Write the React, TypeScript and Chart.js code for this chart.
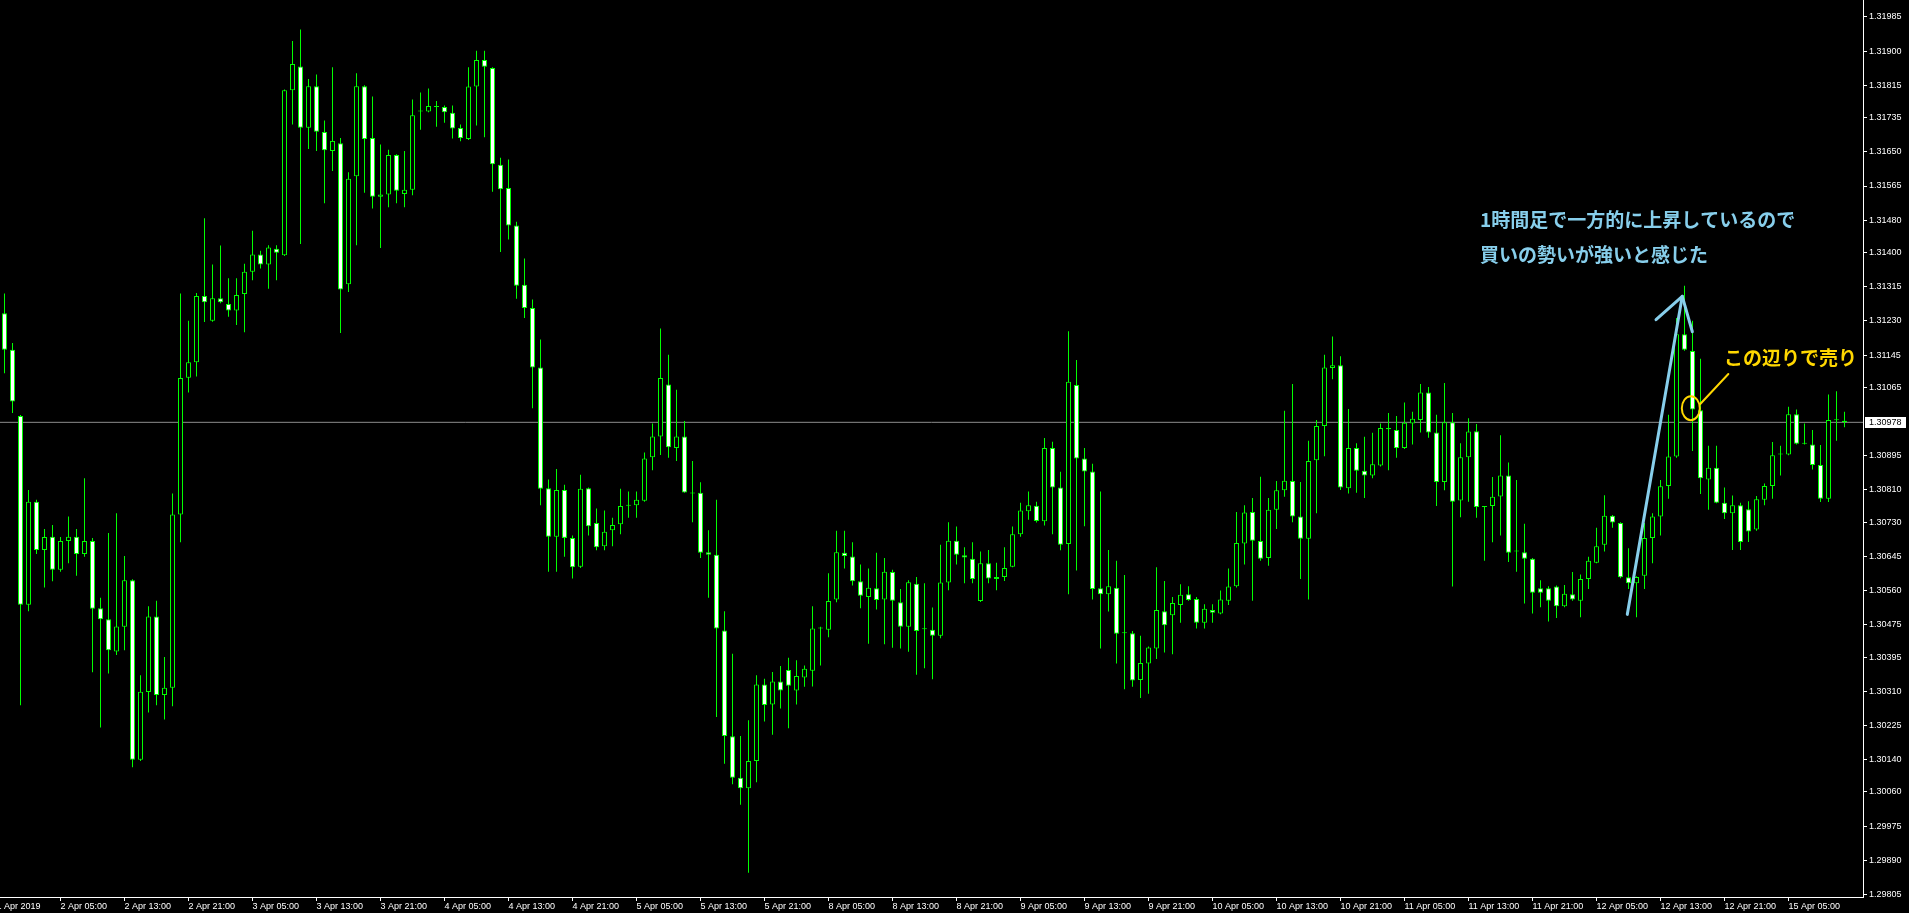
import React, { useEffect, useRef } from 'react';
import { Chart, registerables } from 'chart.js';

Chart.register(...registerables);

// H1 candles, 1 Apr 22:00 .. 15 Apr 07:00 (231 bars)
const opens = [
  1.31249, 1.31158, 1.30994, 1.30525, 1.30781, 1.30661, 1.30694, 1.30612, 1.30683, 1.30694,
  1.30651, 1.30683, 1.30516, 1.30489, 1.30409, 1.30470, 1.30586, 1.30140, 1.30308, 1.30496,
  1.30301, 1.30319, 1.30749, 1.31089, 1.31127, 1.31292, 1.31230, 1.31286, 1.31272, 1.31256,
  1.31297, 1.31352, 1.31395, 1.31370, 1.31409, 1.31393, 1.31803, 1.31862, 1.31710, 1.31813,
  1.31699, 1.31652, 1.31671, 1.31321, 1.31589, 1.31813, 1.31684, 1.31538, 1.31544, 1.31642,
  1.31545, 1.31556, 1.31750, 1.31750, 1.31764, 1.31761, 1.31747, 1.31709, 1.31682, 1.31812,
  1.31878, 1.31858, 1.31618, 1.31560, 1.31467, 1.31320, 1.31262, 1.31114, 1.30814, 1.30694,
  1.30810, 1.30691, 1.30619, 1.30814, 1.30728, 1.30670, 1.30710, 1.30725, 1.30771, 1.30772,
  1.30783, 1.30891, 1.30943, 1.31072, 1.30914, 1.30943, 1.30803, 1.30803, 1.30655, 1.30649,
  1.30461, 1.30198, 1.30095, 1.30069, 1.30137, 1.30327, 1.30277, 1.30334, 1.30363, 1.30312,
  1.30344, 1.30361, 1.30466, 1.30463, 1.30538, 1.30654, 1.30645, 1.30583, 1.30544, 1.30566,
  1.30538, 1.30606, 1.30531, 1.30470, 1.30577, 1.30466, 1.30463, 1.30448, 1.30580, 1.30684,
  1.30648, 1.30639, 1.30534, 1.30628, 1.30589, 1.30594, 1.30619, 1.30700, 1.30757, 1.30771,
  1.30732, 1.30914, 1.30816, 1.30676, 1.31071, 1.30888, 1.30856, 1.30566, 1.30551, 1.30567,
  1.30454, 1.30454, 1.30338, 1.30379, 1.30416, 1.30509, 1.30499, 1.30524, 1.30551, 1.30539,
  1.30480, 1.30512, 1.30503, 1.30535, 1.30571, 1.30677, 1.30755, 1.30683, 1.30641, 1.30761,
  1.30809, 1.30832, 1.30744, 1.30689, 1.30884, 1.30969, 1.31113, 1.31120, 1.30814, 1.30914,
  1.30858, 1.30846, 1.30871, 1.30964, 1.30959, 1.30914, 1.30975, 1.30984, 1.31052, 1.30953,
  1.30830, 1.30978, 1.30784, 1.30891, 1.30956, 1.30768, 1.30770, 1.30794, 1.30846, 1.30658,
  1.30655, 1.30639, 1.30566, 1.30566, 1.30570, 1.30521, 1.30551, 1.30535, 1.30589, 1.30629,
  1.30674, 1.30746, 1.30728, 1.30593, 1.30578, 1.30597, 1.30691, 1.30744, 1.30820, 1.30893,
  1.31197, 1.31155, 1.31008, 1.30836, 1.30865, 1.30778, 1.30752, 1.30772, 1.30762, 1.30712,
  1.30786, 1.30820, 1.30898, 1.30898, 1.30998, 1.30926, 1.30923, 1.30872, 1.30788, 1.30984,
  1.30982,
];

const highs = [
  1.31298, 1.31175, 1.30996, 1.30810, 1.30786, 1.30713, 1.30723, 1.30693, 1.30744, 1.30713,
  1.30839, 1.30691, 1.30542, 1.30703, 1.30752, 1.30646, 1.30588, 1.30350, 1.30521, 1.30535,
  1.30395, 1.30801, 1.31298, 1.31230, 1.31299, 1.31485, 1.31370, 1.31417, 1.31336, 1.31336,
  1.31372, 1.31454, 1.31404, 1.31418, 1.31418, 1.31805, 1.31925, 1.31954, 1.31831, 1.31842,
  1.31728, 1.31860, 1.31684, 1.31599, 1.31845, 1.31815, 1.31787, 1.31668, 1.31655, 1.31644,
  1.31652, 1.31780, 1.31797, 1.31807, 1.31776, 1.31765, 1.31765, 1.31718, 1.31860, 1.31901,
  1.31901, 1.31860, 1.31635, 1.31631, 1.31476, 1.31385, 1.31283, 1.31184, 1.30836, 1.30862,
  1.30823, 1.30697, 1.30848, 1.30816, 1.30764, 1.30759, 1.30741, 1.30813, 1.30806, 1.30806,
  1.30903, 1.30975, 1.31211, 1.31146, 1.31059, 1.30981, 1.30882, 1.30829, 1.30710, 1.30786,
  1.30509, 1.30403, 1.30199, 1.30238, 1.30350, 1.30341, 1.30358, 1.30373, 1.30393, 1.30387,
  1.30374, 1.30521, 1.30470, 1.30603, 1.30709, 1.30709, 1.30680, 1.30625, 1.30615, 1.30654,
  1.30641, 1.30612, 1.30564, 1.30586, 1.30594, 1.30578, 1.30518, 1.30674, 1.30730, 1.30719,
  1.30668, 1.30680, 1.30657, 1.30661, 1.30629, 1.30668, 1.30719, 1.30778, 1.30806, 1.30781,
  1.30939, 1.30930, 1.30855, 1.31204, 1.31133, 1.30914, 1.30875, 1.30806, 1.30661, 1.30634,
  1.30599, 1.30460, 1.30448, 1.30421, 1.30618, 1.30584, 1.30544, 1.30576, 1.30571, 1.30544,
  1.30526, 1.30526, 1.30560, 1.30615, 1.30755, 1.30772, 1.30790, 1.30843, 1.30790, 1.30832,
  1.31007, 1.31073, 1.30830, 1.30932, 1.30984, 1.31146, 1.31191, 1.31142, 1.31011, 1.30926,
  1.30942, 1.30952, 1.30975, 1.31001, 1.30994, 1.31027, 1.31004, 1.31073, 1.31066, 1.30997,
  1.31076, 1.31001, 1.30926, 1.30988, 1.30974, 1.30770, 1.30842, 1.30946, 1.30878, 1.30835,
  1.30726, 1.30641, 1.30586, 1.30571, 1.30573, 1.30574, 1.30606, 1.30600, 1.30644, 1.30716,
  1.30797, 1.30748, 1.30730, 1.30665, 1.30596, 1.30728, 1.30752, 1.30835, 1.30997, 1.31237,
  1.31317, 1.31230, 1.31136, 1.30920, 1.30920, 1.30816, 1.30796, 1.30778, 1.30782, 1.30795,
  1.30826, 1.30929, 1.30920, 1.31017, 1.31010, 1.30975, 1.30959, 1.30922, 1.31047, 1.31055,
  1.31004,
];

const lows = [
  1.31100, 1.31001, 1.30275, 1.30509, 1.30651, 1.30568, 1.30583, 1.30607, 1.30628, 1.30597,
  1.30644, 1.30357, 1.30220, 1.30354, 1.30400, 1.30412, 1.30121, 1.30137, 1.30257, 1.30275,
  1.30240, 1.30273, 1.30680, 1.31052, 1.31092, 1.31227, 1.31228, 1.31274, 1.31240, 1.31220,
  1.31202, 1.31331, 1.31360, 1.31310, 1.31331, 1.31391, 1.31718, 1.31421, 1.31657, 1.31652,
  1.31522, 1.31602, 1.31200, 1.31302, 1.31418, 1.31548, 1.31509, 1.31411, 1.31512, 1.31522,
  1.31512, 1.31542, 1.31705, 1.31748, 1.31712, 1.31722, 1.31683, 1.31676, 1.31679, 1.31715,
  1.31686, 1.31551, 1.31401, 1.31432, 1.31285, 1.31237, 1.31013, 1.30772, 1.30607, 1.30607,
  1.30644, 1.30590, 1.30616, 1.30697, 1.30660, 1.30660, 1.30670, 1.30700, 1.30741, 1.30741,
  1.30781, 1.30859, 1.30897, 1.30890, 1.30882, 1.30803, 1.30730, 1.30641, 1.30542, 1.30246,
  1.30130, 1.30079, 1.30028, 1.29859, 1.30084, 1.30235, 1.30202, 1.30267, 1.30218, 1.30277,
  1.30321, 1.30322, 1.30374, 1.30444, 1.30531, 1.30615, 1.30573, 1.30516, 1.30428, 1.30513,
  1.30427, 1.30418, 1.30416, 1.30408, 1.30351, 1.30367, 1.30340, 1.30442, 1.30561, 1.30625,
  1.30578, 1.30578, 1.30532, 1.30578, 1.30561, 1.30584, 1.30618, 1.30694, 1.30736, 1.30729,
  1.30722, 1.30700, 1.30660, 1.30551, 1.30610, 1.30720, 1.30538, 1.30416, 1.30508, 1.30379,
  1.30315, 1.30321, 1.30293, 1.30304, 1.30390, 1.30406, 1.30402, 1.30480, 1.30535, 1.30466,
  1.30466, 1.30480, 1.30501, 1.30524, 1.30568, 1.30625, 1.30535, 1.30634, 1.30622, 1.30713,
  1.30793, 1.30730, 1.30589, 1.30538, 1.30752, 1.30894, 1.31085, 1.30810, 1.30801, 1.30803,
  1.30790, 1.30839, 1.30868, 1.30859, 1.30890, 1.30912, 1.30923, 1.30953, 1.30940, 1.30770,
  1.30809, 1.30570, 1.30742, 1.30781, 1.30741, 1.30634, 1.30680, 1.30697, 1.30631, 1.30607,
  1.30528, 1.30503, 1.30519, 1.30483, 1.30492, 1.30519, 1.30535, 1.30494, 1.30564, 1.30628,
  1.30657, 1.30716, 1.30591, 1.30564, 1.30494, 1.30564, 1.30628, 1.30697, 1.30788, 1.30890,
  1.31156, 1.30907, 1.30800, 1.30761, 1.30777, 1.30738, 1.30661, 1.30661, 1.30681, 1.30709,
  1.30772, 1.30788, 1.30846, 1.30896, 1.30923, 1.30923, 1.30861, 1.30780, 1.30780, 1.30932,
  1.30966,
];

const closes = [
  1.31158, 1.31030, 1.30525, 1.30781, 1.30661, 1.30693, 1.30612, 1.30683, 1.30694, 1.30651,
  1.30683, 1.30515, 1.30489, 1.30412, 1.30471, 1.30586, 1.30140, 1.30309, 1.30496, 1.30301,
  1.30319, 1.30749, 1.31088, 1.31127, 1.31292, 1.31276, 1.31286, 1.31276, 1.31256, 1.31294,
  1.31352, 1.31395, 1.31370, 1.31412, 1.31399, 1.31803, 1.31868, 1.31710, 1.31813, 1.31700,
  1.31654, 1.31677, 1.31308, 1.31583, 1.31813, 1.31682, 1.31538, 1.31544, 1.31642, 1.31553,
  1.31556, 1.31741, 1.31751, 1.31764, 1.31761, 1.31748, 1.31708, 1.31684, 1.31812, 1.31878,
  1.31861, 1.31619, 1.31557, 1.31467, 1.31317, 1.31262, 1.31114, 1.30813, 1.30694, 1.30810,
  1.30691, 1.30618, 1.30813, 1.30720, 1.30668, 1.30706, 1.30723, 1.30770, 1.30772, 1.30786,
  1.30888, 1.30943, 1.31088, 1.30916, 1.30943, 1.30804, 1.30801, 1.30654, 1.30649, 1.30466,
  1.30199, 1.30095, 1.30069, 1.30137, 1.30327, 1.30276, 1.30334, 1.30312, 1.30324, 1.30348,
  1.30366, 1.30466, 1.30467, 1.30534, 1.30655, 1.30646, 1.30583, 1.30547, 1.30567, 1.30537,
  1.30607, 1.30535, 1.30470, 1.30581, 1.30460, 1.30464, 1.30448, 1.30580, 1.30684, 1.30649,
  1.30642, 1.30589, 1.30628, 1.30590, 1.30594, 1.30616, 1.30700, 1.30759, 1.30772, 1.30733,
  1.30914, 1.30816, 1.30674, 1.31079, 1.30888, 1.30856, 1.30564, 1.30551, 1.30571, 1.30453,
  1.30455, 1.30337, 1.30380, 1.30419, 1.30512, 1.30474, 1.30529, 1.30550, 1.30537, 1.30480,
  1.30515, 1.30505, 1.30538, 1.30570, 1.30678, 1.30754, 1.30684, 1.30639, 1.30761, 1.30809,
  1.30833, 1.30744, 1.30689, 1.30882, 1.30969, 1.31114, 1.31120, 1.30816, 1.30914, 1.30858,
  1.30846, 1.30874, 1.30964, 1.30961, 1.30914, 1.30977, 1.30987, 1.31052, 1.30953, 1.30830,
  1.30978, 1.30781, 1.30891, 1.30955, 1.30768, 1.30769, 1.30793, 1.30846, 1.30654, 1.30657,
  1.30639, 1.30555, 1.30555, 1.30535, 1.30521, 1.30552, 1.30538, 1.30589, 1.30634, 1.30670,
  1.30746, 1.30729, 1.30593, 1.30578, 1.30594, 1.30691, 1.30744, 1.30819, 1.30893, 1.31197,
  1.31158, 1.31010, 1.30839, 1.30865, 1.30778, 1.30752, 1.30772, 1.30681, 1.30707, 1.30787,
  1.30820, 1.30896, 1.30900, 1.30998, 1.30925, 1.30925, 1.30872, 1.30788, 1.30984, 1.30983,
  1.30978,
];

const currentPrice = 1.30978;

const priceTicks = [
  1.31985, 1.319, 1.31815, 1.31735, 1.3165, 1.31565, 1.3148, 1.314, 1.31315, 1.3123,
  1.31145, 1.31065, 1.30895, 1.3081, 1.3073, 1.30645, 1.3056, 1.30475, 1.30395, 1.3031,
  1.30225, 1.3014, 1.3006, 1.29975, 1.2989, 1.29805,
];

const timeTickIndex = [
  -1, 7, 15, 23, 31, 39, 47, 55, 63, 71, 79, 87, 95, 103, 111, 119, 127, 135, 143, 151,
  159, 167, 175, 183, 191, 199, 207, 215, 223,
];

const timeTickLabels = [
  '1 Apr 2019', '2 Apr 05:00', '2 Apr 13:00', '2 Apr 21:00', '3 Apr 05:00', '3 Apr 13:00',
  '3 Apr 21:00', '4 Apr 05:00', '4 Apr 13:00', '4 Apr 21:00', '5 Apr 05:00', '5 Apr 13:00',
  '5 Apr 21:00', '8 Apr 05:00', '8 Apr 13:00', '8 Apr 21:00', '9 Apr 05:00', '9 Apr 13:00',
  '9 Apr 21:00', '10 Apr 05:00', '10 Apr 13:00', '10 Apr 21:00', '11 Apr 05:00', '11 Apr 13:00',
  '11 Apr 21:00', '12 Apr 05:00', '12 Apr 13:00', '12 Apr 21:00', '15 Apr 05:00',
];

const noteLines = ['1時間足で一方的に上昇しているので', '買いの勢いが強いと感じた'];
const sellNote = 'この辺りで売り';

const X_MIN = -0.5625;
const X_MAX = 232.3125;
const Y_MIN = 1.29799;
const Y_MAX = 1.32027;

const AXIS_FONT = { family: '"Liberation Sans", Arial, sans-serif', size: 9 };
const BLUE = '#87CEEB';
const GOLD = '#FFD700';

const backgroundPlugin = {
  id: 'mt4Background',
  beforeDraw(chart: any) {
    const { ctx, width, height } = chart;
    ctx.save();
    ctx.fillStyle = '#000000';
    ctx.fillRect(0, 0, width, height);
    ctx.restore();
  },
};

const annotationPlugin = {
  id: 'mt4Annotations',
  afterDatasetsDraw(chart: any) {
    const { ctx } = chart;
    const xs = chart.scales.x;
    const ys = chart.scales.y;
    const px = (v: number) => xs.getPixelForValue(v);
    const py = (v: number) => ys.getPixelForValue(v);
    ctx.save();
    ctx.strokeStyle = BLUE;
    ctx.lineWidth = 3;
    ctx.lineCap = 'round';
    ctx.lineJoin = 'round';
    ctx.beginPath();
    ctx.moveTo(px(202.85), py(1.30501));
    ctx.lineTo(px(209.72), py(1.31291));
    ctx.stroke();
    ctx.beginPath();
    ctx.moveTo(px(206.44), py(1.31233));
    ctx.lineTo(px(209.72), py(1.31291));
    ctx.lineTo(px(210.98), py(1.31203));
    ctx.stroke();
    ctx.fillStyle = BLUE;
    ctx.font = 'bold 19px "Noto Sans CJK JP", sans-serif';
    ctx.textBaseline = 'middle';
    ctx.textAlign = 'left';
    ctx.fillText(noteLines[0], px(184.44), py(1.31482));
    ctx.fillText(noteLines[1], px(184.44), py(1.31395));
    ctx.strokeStyle = GOLD;
    ctx.lineWidth = 2;
    ctx.beginPath();
    ctx.ellipse(px(210.79), py(1.31013), 9, 12, 0, 0, Math.PI * 2);
    ctx.stroke();
    ctx.beginPath();
    ctx.moveTo(px(211.94), py(1.31023));
    ctx.lineTo(px(215.48), py(1.31098));
    ctx.stroke();
    ctx.fillStyle = GOLD;
    ctx.fillText(sellNote, px(214.94), py(1.31139));
    ctx.restore();
  },
  afterDraw(chart: any) {
    const { ctx } = chart;
    const ys = chart.scales.y;
    const y = Math.round(ys.getPixelForValue(currentPrice));
    const left = chart.chartArea.right + 2;
    ctx.save();
    ctx.fillStyle = '#ffffff';
    ctx.fillRect(left, y - 5, 41, 11);
    ctx.fillStyle = '#000000';
    ctx.font = '9px "Liberation Sans", Arial, sans-serif';
    ctx.textBaseline = 'middle';
    ctx.textAlign = 'left';
    ctx.fillText(currentPrice.toFixed(5), chart.chartArea.right + 6, y + 0.5);
    ctx.restore();
  },
};

export default function App() {
  const ref = useRef<HTMLCanvasElement>(null);

  useEffect(() => {
    if (!ref.current) return;
    const idx = opens.map((_, i) => i);
    const bodies = idx.map((i) => ({ x: i, y: [opens[i], closes[i]] }));
    const wicks = idx.map((i) => ({ x: i, y: [lows[i], highs[i]] }));
    const bodyFill = idx.map((i) => (closes[i] < opens[i] ? '#ffffff' : '#000000'));

    const chart = new Chart(ref.current, {
      type: 'bar',
      data: {
        datasets: [
          {
            type: 'bar',
            data: bodies as any,
            backgroundColor: bodyFill,
            borderColor: '#00ff00',
            borderWidth: 1,
            borderSkipped: false,
            barThickness: 5,
            minBarLength: 1,
            grouped: false,
            inflateAmount: 0,
            order: 0,
          } as any,
          {
            type: 'bar',
            data: wicks as any,
            backgroundColor: '#00ff00',
            borderWidth: 0,
            barThickness: 1,
            grouped: false,
            inflateAmount: 0,
            order: 1,
          } as any,
          {
            type: 'line',
            data: [
              { x: X_MIN, y: currentPrice },
              { x: X_MAX, y: currentPrice },
            ],
            borderColor: '#8c8c8c',
            borderWidth: 1,
            pointRadius: 0,
            order: 2,
          } as any,
        ],
      },
      options: {
        responsive: false,
        animation: false,
        devicePixelRatio: 1,
        layout: { padding: 0 },
        plugins: {
          legend: { display: false },
          tooltip: { enabled: false },
        },
        scales: {
          x: {
            type: 'linear',
            position: 'bottom',
            offset: false,
            min: X_MIN,
            max: X_MAX,
            grid: { offset: false, drawOnChartArea: false, drawTicks: true, tickLength: 4, color: '#ffffff' },
            border: { display: true, color: '#ffffff', width: 1 },
            ticks: {
              color: '#ffffff',
              font: AXIS_FONT,
              align: 'start',
              autoSkip: false,
              maxRotation: 0,
              minRotation: 0,
              padding: 0,
              callback: (v: any) => {
                const k = timeTickIndex.indexOf(Number(v));
                return k >= 0 ? timeTickLabels[k] : '';
              },
            },
            afterBuildTicks: (s: any) => {
              s.ticks = timeTickIndex.map((v) => ({ value: v }));
            },
            afterFit: (s: any) => {
              s.height = 16;
              s.paddingLeft = 0;
              s.paddingRight = 0;
            },
          } as any,
          y: {
            type: 'linear',
            position: 'right',
            offset: false,
            min: Y_MIN,
            max: Y_MAX,
            grid: { drawOnChartArea: false, drawTicks: true, tickLength: 4, color: '#ffffff' },
            border: { display: true, color: '#ffffff', width: 1 },
            ticks: {
              color: '#ffffff',
              font: AXIS_FONT,
              autoSkip: false,
              padding: 2,
              callback: (v: any) => Number(v).toFixed(5),
            },
            afterBuildTicks: (s: any) => {
              s.ticks = priceTicks.map((v) => ({ value: v }));
            },
            afterFit: (s: any) => {
              s.width = 46;
              s.paddingTop = 0;
              s.paddingBottom = 0;
            },
          } as any,
        },
      },
      plugins: [backgroundPlugin, annotationPlugin],
    });
    return () => chart.destroy();
  }, []);

  return (
    <div style={{ position: 'fixed', left: 0, top: 0, width: 1909, height: 913, background: '#000' }}>
      <canvas ref={ref} width={1909} height={913} style={{ display: 'block' }} />
    </div>
  );
}
